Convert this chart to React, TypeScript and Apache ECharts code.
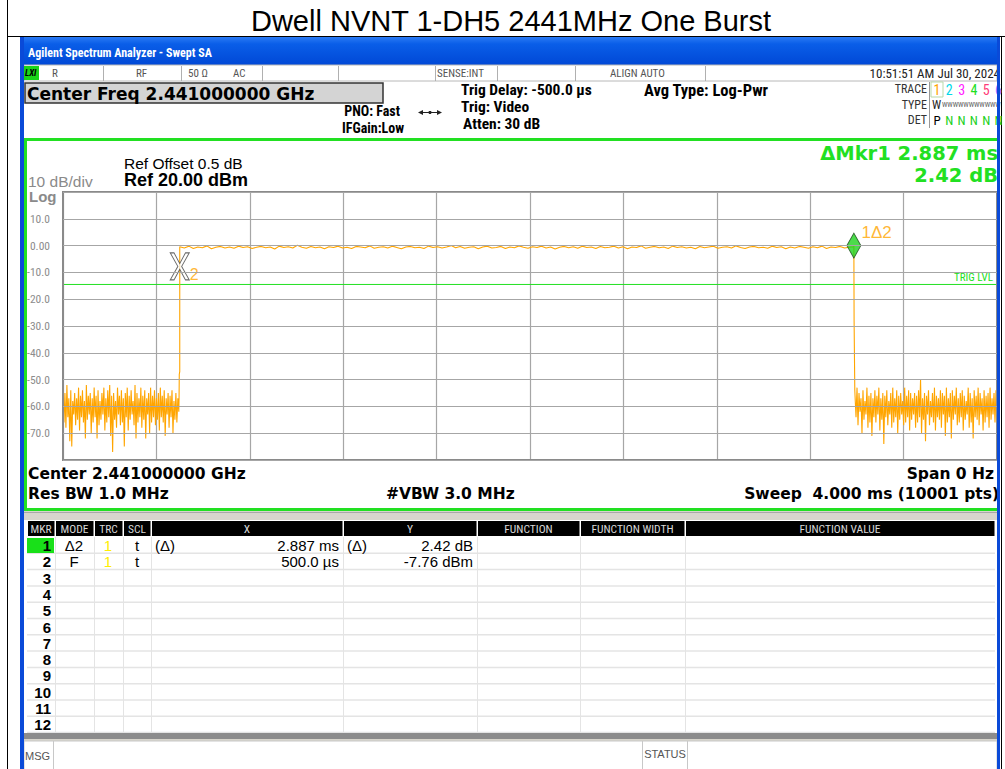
import React, { useEffect, useRef } from 'react';
import * as echarts from 'echarts';

// ---------- data ----------
const TITLE = 'Dwell NVNT 1-DH5 2441MHz One Burst';
const SWEEP_MS = 4.0;
const Y_MIN = -80;
const Y_MAX = 20;
const BURST_START_MS = 0.5;
const BURST_END_MS = 3.387;
const TRIG_LEVEL_DB = -14.5;
const MARKER2 = [0.5, -7.76];
const MARKER1 = [3.387, 0.0];

// noise floor before the burst (dBm)
const leftNoise = [
  -59, -66, -55, -68, -52, -64, -57, -73, -54, -75, -58, -63, -55, -67, -57, -65, -53, -69, -56, -64,
  -54, -66, -58, -72, -52, -65, -56, -63, -55, -70, -57, -66, -53, -64, -56, -72, -54, -67, -58, -65,
  -55, -63, -53, -69, -57, -66, -54, -64, -52, -71, -56, -77, -55, -65, -58, -68, -53, -63, -56, -67,
  -54, -66, -57, -75, -55, -64, -53, -69, -56, -65, -54, -63, -58, -67, -52, -72, -55, -66, -57, -64,
  -53, -68, -56, -65, -54, -72, -57, -63, -55, -70, -53, -66, -56, -64, -54, -67, -57, -65, -55, -69,
  -53, -64, -56, -66, -54, -71, -57, -63, -55, -68, -56, -64, -54, -70, -58, -65, -55, -66, -57, -62,
];
// burst plateau (dBm)
const burstTop = [
  -0.4, -0.9, -0.2, -1.1, -0.5, -0.8, -0.1, -1.2, -0.6, -0.3,
  -0.9, -0.5, -1.0, -0.2, -0.7, -0.4, -1.1, -0.6, -0.3, -0.8,
  -0.5, -1.3, -0.2, -0.7, -0.4, -0.9, 0.1, -0.6, -1.0, -0.3,
  -0.8, -0.5, -1.2, -0.4, -0.7, -0.2, -0.9, -0.6, -1.1, -0.3,
  -0.5, -0.8, -0.1, -1.0, -0.6, -0.4, -0.9, -0.2, -0.7, -1.2,
  -0.5, -0.3, -0.8, -0.6, -1.1, -0.2, -0.7, -0.4, -0.9, -0.5,
  0.0, -0.8, -0.3, -1.0, -0.6, -0.4, -1.2, -0.5, -0.2, -0.9,
  -0.7, -0.3, -1.1, -0.5, -0.8, -0.1, -0.6, -1.0, -0.4, -0.7,
  -0.2, -0.9, -0.5, -1.3, -0.6, -0.3, -0.8, -0.4, -1.0, -0.2,
  -0.7, -0.5, -1.1, -0.3, -0.8, -0.6, -0.2, -0.9, -0.4, -1.2,
  -0.5, -0.7, -0.1, -1.0, -0.6, -0.3, -0.8, -0.5, -1.1, -0.2,
  -0.7, -0.4, -0.9, -0.6, -1.2, -0.3, -0.8, -0.5, -0.2, -1.0,
  -0.6, -0.4, -0.9, -0.1, -0.7, -1.1, -0.5, -0.3, -0.8, -0.6,
  -1.0, -0.2, -0.7, -0.4, -1.2, -0.5, -0.9, -0.3, -0.6, -1.0,
  -0.4, -0.8, -0.2, -1.1, -0.5, -0.7, -0.3, -0.9, -0.6, -0.4,
];
// noise floor after the burst (dBm)
const rightNoise = [
  -56, -64, -53, -67, -55, -62, -57, -70, -54, -65, -58, -63, -53, -68, -56, -66, -55, -71, -57, -64,
  -54, -66, -56, -63, -53, -69, -57, -65, -55, -74, -56, -64, -54, -67, -58, -63, -55, -68, -53, -66,
  -57, -64, -54, -70, -56, -65, -55, -63, -58, -67, -53, -66, -56, -64, -54, -69, -55, -65, -57, -63,
  -55, -68, -56, -66, -54, -64, -50, -70, -57, -65, -55, -73, -56, -63, -54, -67, -58, -64, -55, -66,
  -53, -69, -56, -64, -57, -65, -54, -68, -55, -63, -56, -71, -53, -66, -57, -64, -55, -72, -54, -65,
  -56, -63, -53, -67, -57, -66, -55, -64, -54, -69, -56, -65, -58, -63, -53, -68, -55, -66, -57, -72,
  -54, -64, -56, -65, -53, -67, -55, -63, -57, -69, -54, -66, -56, -64, -55, -68, -53, -65, -57, -63,
  -55, -66, -54, -64,
];
const riseEdge = [[0.497, -57], [0.498, -48], [0.5, -47]];
const fallEdge = [[3.388, -28], [3.391, -54]];

const yLabels: Record<string, string> = {
  '10': '10.0', '0': '0.00', '-10': '-10.0', '-20': '-20.0', '-30': '-30.0',
  '-40': '-40.0', '-50': '-50.0', '-60': '-60.0', '-70': '-70.0',
};

const markerRows = [
  ['1', 'Δ2', '1', 't', '(Δ)', '2.887 ms', '(Δ)', '2.42 dB'],
  ['2', 'F', '1', 't', '', '500.0 µs', '', '-7.76 dBm'],
];
const tableHeaders = ['MKR', 'MODE', 'TRC', 'SCL', 'X', 'Y', 'FUNCTION', 'FUNCTION WIDTH', 'FUNCTION VALUE'];
const statusCells = ['R', 'RF', '50 Ω', 'AC', 'SENSE:INT', 'ALIGN AUTO'];
const traceDigits = ['1', '2', '3', '4', '5', '6'];

// ---------- build trace ----------
function buildTrace(): number[][] {
  const out: number[][] = [];
  const lEnd = 0.496;
  leftNoise.forEach((v, i) => out.push([(i * lEnd) / (leftNoise.length - 1), v]));
  riseEdge.forEach((p) => out.push(p));
  const tEnd = BURST_END_MS - 0.001;
  burstTop.forEach((v, i) =>
    out.push([BURST_START_MS + (i * (tEnd - BURST_START_MS)) / (burstTop.length - 1), v])
  );
  out.push([BURST_END_MS, MARKER1[1]]);
  fallEdge.forEach((p) => out.push(p));
  const rStart = 3.392;
  rightNoise.forEach((v, i) =>
    out.push([rStart + (i * (SWEEP_MS - rStart)) / (rightNoise.length - 1), v])
  );
  return out;
}

const SANS = '"Liberation Sans", Arial, sans-serif';
const WIDE = '"DejaVu Sans", Verdana, sans-serif';
const NARROW = '"Liberation Sans Narrow", "Roboto Condensed", "DejaVu Sans Condensed", "Liberation Sans", sans-serif';
const ORANGE = '#ffa500';
const GREEN = '#22e022';

function txt(x: number, y: number, text: string, o: any = {}) {
  const align = o.align || 'left';
  return {
    type: 'text', x, y, z: o.z ?? 30, silent: true,
    style: {
      text, fill: o.color || '#000', fontSize: o.size || 12, fontFamily: o.family || SANS,
      fontWeight: o.weight || 'normal', fontStyle: o.fstyle || 'normal',
      textAlign: align, align, textVerticalAlign: 'middle', verticalAlign: 'middle',
    },
  };
}
function rect(x: number, y: number, w: number, h: number, fill: any, o: any = {}) {
  return {
    type: 'rect', z: o.z ?? 5, silent: true,
    shape: { x, y, width: w, height: h },
    style: { fill, stroke: o.stroke || null, lineWidth: o.lw || 0 },
  };
}
function ln(x1: number, y1: number, x2: number, y2: number, color: string, w = 1, z = 20) {
  return { type: 'line', z, silent: true, shape: { x1, y1, x2, y2 }, style: { stroke: color, lineWidth: w } };
}

function buildGraphic() {
  const g: any[] = [];
  // page frame & title
  g.push(ln(7.5, 0, 7.5, 769, '#000', 1, 1));
  g.push(ln(7, 36.5, 1005, 36.5, '#000', 1, 1));
  g.push(ln(1001.5, 37, 1001.5, 769, '#000', 1, 1));
  g.push(txt(511, 21, TITLE, { size: 29, family: SANS, align: 'center' }));

  // window body
  g.push(rect(20, 37, 980, 732, '#ffffff', { z: 2 }));
  g.push({
    type: 'rect', z: 3, silent: true, shape: { x: 20, y: 37, width: 980, height: 28 },
    style: {
      fill: new echarts.graphic.LinearGradient(0, 0, 0, 1, [
        { offset: 0, color: '#2a7af4' }, { offset: 0.25, color: '#0a5ee8' }, { offset: 1, color: '#0048d6' },
      ]),
    },
  });
  g.push(txt(28, 53, 'Agilent Spectrum Analyzer - Swept SA', { size: 12, weight: 'bold', color: '#fff', family: NARROW }));

  // status row
  g.push(rect(24, 65, 973, 16, '#ffffff', { z: 4, stroke: '#b8b8b8', lw: 1 }));
  g.push(rect(24, 66, 15, 14, '#19d419', { z: 6 }));
  g.push(txt(25, 73, 'LXI', { size: 9, weight: 'bold', fstyle: 'italic', family: NARROW }));
  const sepX = [103, 181, 262, 338, 435, 497, 575, 705];
  sepX.forEach((x) => g.push(ln(x + 0.5, 66, x + 0.5, 81, '#b0b0b0', 1, 6)));
  const statusX = [52, 136, 188, 233, 437, 610];
  statusCells.forEach((s, i) => g.push(txt(statusX[i], 73, s, { size: 11, color: '#555', family: NARROW })));
  g.push(txt(1000, 73, '10:51:51 AM Jul 30, 2024', { size: 13, color: '#222', family: NARROW, align: 'right' }));

  // header
  g.push(rect(25, 83, 358, 20, '#d4d4d4', { z: 6, stroke: '#333', lw: 1.5 }));
  g.push(txt(27, 93.5, 'Center Freq 2.441000000 GHz', { size: 17, weight: 'bold', family: WIDE }));
  g.push(txt(400, 111, 'PNO: Fast', { size: 14, weight: 'bold', family: NARROW, align: 'right' }));
  g.push(txt(404, 127.5, 'IFGain:Low', { size: 14, weight: 'bold', family: NARROW, align: 'right' }));
  g.push(ln(419, 112.5, 441, 112.5, '#222', 1));
  g.push({ type: 'polygon', z: 20, silent: true, shape: { points: [[418, 112.5], [423, 110], [423, 115]] }, style: { fill: '#222' } });
  g.push({ type: 'polygon', z: 20, silent: true, shape: { points: [[442, 112.5], [437, 110], [437, 115]] }, style: { fill: '#222' } });
  g.push({ type: 'circle', z: 20, silent: true, shape: { cx: 430, cy: 112.5, r: 1.6 }, style: { fill: '#222' } });
  g.push(txt(461, 90, 'Trig Delay: -500.0 µs', { size: 15.5, weight: 'bold', family: NARROW }));
  g.push(txt(461, 107, 'Trig: Video', { size: 15.5, weight: 'bold', family: NARROW }));
  g.push(txt(463, 124, 'Atten: 30 dB', { size: 15.5, weight: 'bold', family: NARROW }));
  g.push(txt(644, 90, 'Avg Type: Log-Pwr', { size: 16.5, weight: 'bold', family: NARROW }));
  g.push(txt(927, 89, 'TRACE', { size: 12, color: '#333', family: NARROW, align: 'right' }));
  g.push(txt(927, 105, 'TYPE', { size: 12, color: '#333', family: NARROW, align: 'right' }));
  g.push(txt(927, 120, 'DET', { size: 12, color: '#333', family: NARROW, align: 'right' }));
  g.push(ln(929.5, 82, 929.5, 128, '#999', 1));
  g.push(rect(931, 82, 12, 15, 'none', { z: 6, stroke: '#b9d9a9', lw: 1 }));
  const digitColors = [ORANGE, '#00d8e8', '#ff20ff', '#20e020', '#ff3c78', '#9a6cff'];
  traceDigits.forEach((d, i) => {
    g.push(txt(937 + i * 12.3, 89.5, d, { size: 14, color: digitColors[i], family: NARROW, align: 'center' }));
    g.push(txt(937 + i * 12.3, 120, i === 0 ? 'P' : 'N', { size: 13, color: i === 0 ? '#000' : '#20d020', family: NARROW, align: 'center' }));
  });
  g.push(txt(932, 105, 'W', { size: 12, family: NARROW, color: '#222' }));
  g.push(txt(942, 105, 'WWWWWWWWWWW', { size: 7, family: NARROW, color: '#555' }));

  // plot panel
  g.push(rect(25.5, 139.5, 973, 370, '#ffffff', { z: 4, stroke: GREEN, lw: 3 }));
  g.push(txt(124, 163, 'Ref Offset 0.5 dB', { size: 15.5 }));
  g.push(txt(124, 180, 'Ref 20.00 dBm', { size: 18, weight: 'bold' }));
  g.push(txt(28, 181, '10 dB/div', { size: 15.5, color: '#8a8a8a' }));
  g.push(txt(29, 196, 'Log', { size: 15, color: '#8a8a8a', weight: 'bold' }));
  g.push(txt(998, 153, 'ΔMkr1 2.887 ms', { size: 19.5, weight: 'bold', color: GREEN, align: 'right', family: WIDE }));
  g.push(txt(998, 175, '2.42 dB', { size: 19.5, weight: 'bold', color: GREEN, align: 'right', family: WIDE }));
  g.push(rect(63, 192, 934, 268, 'none', { z: 40, stroke: '#8a8a8a', lw: 2 }));
  g.push(txt(993, 277, 'TRIG LVL', { size: 11, color: GREEN, family: NARROW, align: 'right' }));
  g.push(txt(28, 474, 'Center 2.441000000 GHz', { size: 15.5, weight: 'bold', family: WIDE }));
  g.push(txt(28, 494, 'Res BW 1.0 MHz', { size: 15.5, weight: 'bold', family: WIDE }));
  g.push(txt(386, 494, '#VBW 3.0 MHz', { size: 15.5, weight: 'bold', family: WIDE }));
  g.push(txt(994, 474, 'Span 0 Hz', { size: 15.5, weight: 'bold', align: 'right', family: WIDE }));
  g.push(txt(999, 494, 'Sweep  4.000 ms (10001 pts)', { size: 15.5, weight: 'bold', align: 'right', family: WIDE }));

  // strip under plot panel
  g.push(rect(24, 511, 973, 9, '#d8d5cc', { z: 4 }));
  g.push(ln(24, 512.5, 997, 512.5, '#a8a8a8', 1, 5));

  // table
  const cols = [27, 55, 94, 123, 151, 343, 477, 580, 685, 995];
  g.push(rect(24, 520, 973, 214, '#ffffff', { z: 4 }));
  tableHeaders.forEach((h, i) => {
    g.push(rect(cols[i] + 1, 521, cols[i + 1] - cols[i] - 1.5, 15, '#000', { z: 6 }));
    g.push(txt((cols[i] + cols[i + 1]) / 2, 528.5, h, { size: 11.5, color: '#d8d8d8', family: NARROW, align: 'center' }));
  });
  const rowH = 16.3;
  const row0 = 537;
  for (let r = 0; r < 12; r++) {
    const yb = row0 + (r + 1) * rowH;
    g.push(ln(27, yb, 995, yb, '#e4e4e4', 1.5, 6));
  }
  cols.slice(1, -1).forEach((x) => g.push(ln(x + 0.5, row0, x + 0.5, row0 + 12 * rowH, '#e4e4e4', 1, 6)));
  g.push(rect(27, row0 + 1, 27, 15, '#19e019', { z: 7 }));
  for (let r = 0; r < 12; r++) {
    const yc = row0 + r * rowH + 8.5;
    g.push(txt(51, yc, String(r + 1), { size: 15, weight: 'bold', align: 'right' }));
  }
  markerRows.forEach((row, r) => {
    const yc = row0 + r * rowH + 8.5;
    g.push(txt(74, yc, row[1], { size: 15, align: 'center' }));
    g.push(txt(108, yc, row[2], { size: 15, align: 'center', color: '#ffee00' }));
    g.push(txt(137, yc, row[3], { size: 15, align: 'center' }));
    if (row[4]) g.push(txt(155, yc, row[4], { size: 15 }));
    g.push(txt(339, yc, row[5], { size: 15, align: 'right' }));
    if (row[6]) g.push(txt(347, yc, row[6], { size: 15 }));
    g.push(txt(473, yc, row[7], { size: 15, align: 'right' }));
  });

  // bottom bars
  g.push(rect(24, 733, 973, 6, '#8c8c8c', { z: 6 }));
  g.push(rect(24, 739, 973, 2, '#d8d5cc', { z: 6 }));
  g.push(rect(24, 741, 973, 30, '#ffffff', { z: 6, stroke: '#c8c8c8', lw: 1 }));
  g.push(ln(53.5, 741, 53.5, 769, '#c8c8c8', 1, 7));
  g.push(ln(642.5, 741, 642.5, 769, '#c8c8c8', 1, 7));
  g.push(ln(687.5, 741, 687.5, 769, '#c8c8c8', 1, 7));
  g.push(txt(25, 756, 'MSG', { size: 11, color: '#555' }));
  g.push(txt(665, 754, 'STATUS', { size: 11, color: '#555', align: 'center' }));

  // blue window borders (on top)
  g.push(rect(20, 37, 4, 732, '#0a4ad8', { z: 60 }));
  g.push(rect(997, 37, 3, 732, '#0a4ad8', { z: 60 }));
  return g;
}

export default function App() {
  const ref = useRef<HTMLDivElement>(null);
  useEffect(() => {
    if (!ref.current) return;
    const chart = echarts.init(ref.current, undefined, { renderer: 'svg' });
    const trace = buildTrace();
    const xPath = 'path://M0,0L4,0L10,11L16,0L20,0L12,14L20,28L16,28L10,17L4,28L0,28L8,14Z';
    chart.setOption({
      animation: false,
      grid: { left: 63, top: 192, width: 934, height: 268, show: false, z: 10 },
      xAxis: {
        type: 'value', min: 0, max: SWEEP_MS, interval: 0.4, z: 10,
        axisLabel: { show: false }, axisTick: { show: false }, axisLine: { show: false },
        splitLine: { show: true, lineStyle: { color: '#a6a6a6', width: 1.2 } },
      },
      yAxis: {
        type: 'value', min: Y_MIN, max: Y_MAX, interval: 10, z: 50,
        axisTick: { show: false }, axisLine: { show: false },
        axisLabel: {
          color: '#8c8c8c', fontSize: 11.5, margin: 13, fontFamily: NARROW,
          formatter: (v: number) => yLabels[String(v)] ?? '',
        },
        splitLine: { show: true, lineStyle: { color: '#a6a6a6', width: 1.2 } },
      },
      series: [
        {
          type: 'line', z: 11, silent: true, showSymbol: false,
          data: [[0, TRIG_LEVEL_DB], [SWEEP_MS, TRIG_LEVEL_DB]],
          lineStyle: { color: GREEN, width: 1 },
        },
        {
          type: 'line', z: 12, silent: true, showSymbol: false, data: trace,
          lineStyle: { color: ORANGE, width: 1.1 },
        },
        {
          type: 'scatter', z: 14, silent: true, data: [MARKER2], symbol: xPath, symbolSize: [19, 27],
          itemStyle: { color: 'rgba(255,255,255,0.85)', borderColor: '#444', borderWidth: 1 },
          label: { show: true, formatter: '2', position: [20, 14], color: ORANGE, fontSize: 16, fontFamily: SANS, align: 'left', verticalAlign: 'top' },
        },
        {
          type: 'scatter', z: 14, silent: true, data: [MARKER1], symbol: 'diamond', symbolSize: [14, 25],
          itemStyle: { color: '#1ed21e', borderColor: '#1a4a1a', borderWidth: 1 },
          label: { show: true, formatter: '1Δ2', position: [15, -8], color: ORANGE, fontSize: 17, fontFamily: SANS, align: 'left', verticalAlign: 'top' },
        },
      ],
      graphic: buildGraphic(),
    });
    return () => chart.dispose();
  }, []);
  return <div ref={ref} style={{ position: 'fixed', left: 0, top: 0, width: 1005, height: 769, background: '#fff' }} />;
}
